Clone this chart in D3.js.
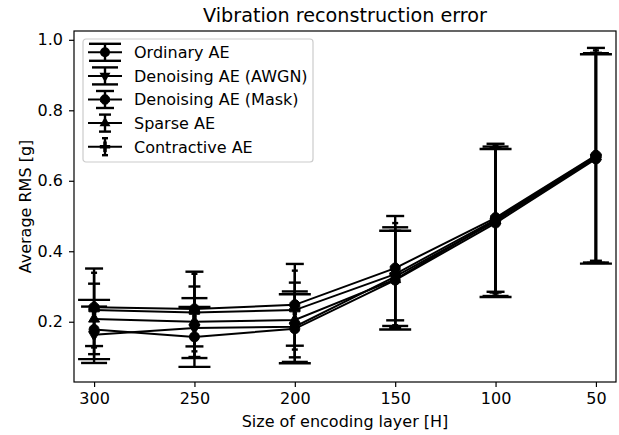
<!DOCTYPE html>
<html>
<head>
<meta charset="utf-8">
<script src="https://cdn.jsdelivr.net/npm/d3@7"></script>
<style>
  body { margin: 0; background: #fff; }
  text { font-family: "DejaVu Sans", sans-serif; fill: #000; }
</style>
</head>
<body>
<div id="chart"></div>
<script>
// Categories on the x axis (encoding layer size)
const layers = ["300", "250", "200", "150", "100", "50"];
const yTicks = [0.2, 0.4, 0.6, 0.8, 1.0];

// Series names
const names = ["Ordinary AE", "Denoising AE (AWGN)", "Denoising AE (Mask)", "Sparse AE", "Contractive AE"];

// Mean values
const ordinaryMean    = [0.178, 0.157, 0.180, 0.318, 0.480, 0.662];
const awgnMean        = [0.163, 0.182, 0.186, 0.328, 0.485, 0.665];
const maskMean        = [0.241, 0.236, 0.248, 0.352, 0.495, 0.672];
const sparseMean      = [0.208, 0.200, 0.205, 0.320, 0.488, 0.668];
const contractiveMean = [0.233, 0.226, 0.233, 0.335, 0.490, 0.670];

// Error bar half lengths
const ordinaryErr    = [0.084, 0.085, 0.098, 0.140, 0.210, 0.297];
const awgnErr        = [0.080, 0.085, 0.100, 0.140, 0.212, 0.297];
const maskErr        = [0.110, 0.106, 0.116, 0.148, 0.210, 0.305];
const sparseErr      = [0.100, 0.100, 0.106, 0.138, 0.205, 0.295];
const contractiveErr = [0.106, 0.110, 0.112, 0.145, 0.210, 0.300];

const means = [ordinaryMean, awgnMean, maskMean, sparseMean, contractiveMean];
const errs = [ordinaryErr, awgnErr, maskErr, sparseErr, contractiveErr];

// Marker shapes and cap half widths per series
const octagon = {
  draw(context, size) {
    const r = Math.sqrt(size / (2 * Math.SQRT2));
    for (let i = 0; i < 8; i++) {
      const a = Math.PI / 8 + i * Math.PI / 4;
      if (i === 0) context.moveTo(r * Math.cos(a), r * Math.sin(a));
      else context.lineTo(r * Math.cos(a), r * Math.sin(a));
    }
    context.closePath();
  }
};
const markers = [
  {type: d3.symbolCircle, size: 78, rotate: 0},
  {type: d3.symbolTriangle, size: 52, rotate: 180},
  {type: octagon, size: 80, rotate: 0},
  {type: d3.symbolTriangle, size: 52, rotate: 0},
  {type: d3.symbolCross, size: 60, rotate: 0}
];
const capHalf = [16, 13, 9, 6, 3];

const W = 619, H = 435;
const margin = {top: 31, right: 3, bottom: 53, left: 74};
const width = W - margin.left - margin.right,
      height = H - margin.top - margin.bottom;

const svg = d3.select("#chart")
  .append("svg")
  .attr("width", W)
  .attr("height", H);

const g = svg.append("g")
  .attr("transform", `translate(${margin.left}, ${margin.top})`);

// Scales
const x = d3.scalePoint()
  .domain(layers)
  .range([0, width])
  .padding(0.2);

const y = d3.scaleLinear()
  .domain([0.029, 1.025])
  .range([height, 0]);

// Axes
g.append("g")
  .attr("transform", `translate(0, ${height})`)
  .call(d3.axisBottom(x).tickSize(5).tickPadding(6))
  .call(a => a.select(".domain").remove())
  .call(a => a.selectAll("text").style("font-size", "16px"))
  .call(a => a.selectAll("line").attr("stroke-width", 1.2));

g.append("g")
  .call(d3.axisLeft(y).tickValues(yTicks).tickFormat(d3.format(".1f")).tickSize(5).tickPadding(6))
  .call(a => a.select(".domain").remove())
  .call(a => a.selectAll("text").style("font-size", "16px"))
  .call(a => a.selectAll("line").attr("stroke-width", 1.2));

// Frame
g.append("rect")
  .attr("width", width)
  .attr("height", height)
  .attr("fill", "none")
  .attr("stroke", "#000")
  .attr("stroke-width", 1.2);

// Draw each series: line, error bars, markers
const line = d3.line()
  .x((d, i) => x(layers[i]))
  .y(d => y(d));

means.forEach((m, s) => {
  const sg = g.append("g");
  sg.append("path")
    .datum(m)
    .attr("d", line)
    .attr("fill", "none")
    .attr("stroke", "#000")
    .attr("stroke-width", 2);

  const bars = sg.selectAll(".bar")
    .data(m.map((v, i) => ({cat: layers[i], v: v, e: errs[s][i]})))
    .enter()
    .append("g");

  bars.append("line")
    .attr("x1", d => x(d.cat)).attr("x2", d => x(d.cat))
    .attr("y1", d => y(d.v - d.e)).attr("y2", d => y(d.v + d.e))
    .attr("stroke", "#000").attr("stroke-width", 2.4);

  [-1, 1].forEach(sign => {
    bars.append("line")
      .attr("x1", d => x(d.cat) - capHalf[s]).attr("x2", d => x(d.cat) + capHalf[s])
      .attr("y1", d => y(d.v + sign * d.e)).attr("y2", d => y(d.v + sign * d.e))
      .attr("stroke", "#000").attr("stroke-width", 2.4);
  });

  bars.append("path")
    .attr("d", d3.symbol().type(markers[s].type).size(markers[s].size))
    .attr("transform", d => `translate(${x(d.cat)}, ${y(d.v)}) rotate(${markers[s].rotate})`)
    .attr("fill", "#000")
    .attr("stroke", "#000")
    .attr("stroke-width", 1);
});

// Title and axis labels
svg.append("text")
  .attr("x", margin.left + width / 2)
  .attr("y", 21.5)
  .attr("text-anchor", "middle")
  .style("font-size", "19.2px")
  .text("Vibration reconstruction error");

svg.append("text")
  .attr("x", margin.left + width / 2)
  .attr("y", 427)
  .attr("text-anchor", "middle")
  .style("font-size", "16px")
  .text("Size of encoding layer [H]");

svg.append("text")
  .attr("transform", `translate(31, ${margin.top + height / 2}) rotate(-90)`)
  .attr("text-anchor", "middle")
  .style("font-size", "16px")
  .text("Average RMS [g]");

// Legend
const legend = svg.append("g").attr("transform", "translate(83, 39)");
legend.append("rect")
  .attr("width", 230)
  .attr("height", 123)
  .attr("rx", 3)
  .attr("fill", "#fff")
  .attr("fill-opacity", 0.8)
  .attr("stroke", "#ccc")
  .attr("stroke-width", 1.2);

names.forEach((name, s) => {
  const row = legend.append("g").attr("transform", `translate(0, ${13.3 + s * 23.6})`);
  row.append("line")
    .attr("x1", 5).attr("x2", 39)
    .attr("stroke", "#000").attr("stroke-width", 2);
  row.append("line")
    .attr("x1", 22).attr("x2", 22).attr("y1", -8.5).attr("y2", 8.5)
    .attr("stroke", "#000").attr("stroke-width", 2.4);
  [-8.5, 8.5].forEach(cy => {
    row.append("line")
      .attr("x1", 22 - capHalf[s]).attr("x2", 22 + capHalf[s])
      .attr("y1", cy).attr("y2", cy)
      .attr("stroke", "#000").attr("stroke-width", 2.4);
  });
  row.append("path")
    .attr("d", d3.symbol().type(markers[s].type).size(markers[s].size))
    .attr("transform", `translate(22, 0) rotate(${markers[s].rotate})`)
    .attr("fill", "#000");
  row.append("text")
    .attr("x", 51)
    .attr("y", 5.8)
    .style("font-size", "16px")
    .text(name);
});
</script>
</body>
</html>
